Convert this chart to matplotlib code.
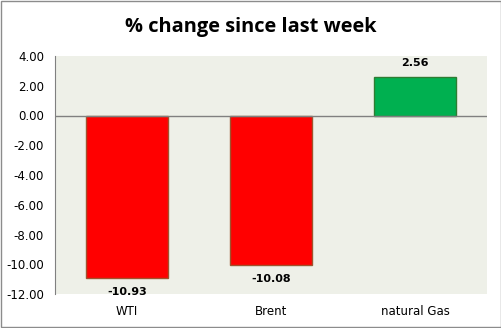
import matplotlib.pyplot as plt
import numpy as np

# weekly % change per commodity
categories = ['WTI', 'Brent', 'natural Gas']
pct_change = [-10.93, -10.08, 2.56]

fig = plt.figure(figsize=(5.02, 3.28), dpi=100)
fig.patch.set_facecolor('white')
ax = fig.add_axes([55 / 502, 1 - 294 / 328, 432 / 502, 238 / 328])
ax.set_facecolor('#eef0e8')

x = np.arange(len(categories))
colors = ['#ff0000' if v < 0 else '#00b050' for v in pct_change]
edges = ['#a0522d' if v < 0 else '#2e7d32' for v in pct_change]
ax.bar(x, pct_change, width=0.57, color=colors, edgecolor=edges, linewidth=1.0, zorder=3)

ax.axhline(0, color='#808080', linewidth=1.0, zorder=4)

for xi, v in zip(x, pct_change):
    off = -0.6 if v < 0 else 0.6
    ax.text(xi, v + off, '%.2f' % v, ha='center', va='top' if v < 0 else 'bottom',
            fontsize=8, fontweight='bold', color='black', family='DejaVu Sans')

ax.set_xlim(-0.5, 2.5)
ax.set_ylim(-12, 4)
ax.set_yticks(np.arange(-12, 5, 2))
ax.set_yticklabels(['%.2f' % t for t in np.arange(-12, 5, 2)], fontsize=8.5)
ax.set_xticks(x)
ax.set_xticklabels(categories, fontsize=8.5)
ax.tick_params(axis='x', length=0, pad=8)
ax.tick_params(axis='y', length=0, pad=8)

for side in ['top', 'right', 'bottom']:
    ax.spines[side].set_visible(False)
ax.spines['left'].set_color('#808080')

fig.text(0.5, 1 - 27 / 328, '% change since last week', ha='center', va='center',
         fontsize=14.4, fontweight='bold', family='Open Sans')

# outer frame
fig.add_artist(plt.Rectangle((0.002, 0.003), 0.996, 0.994, transform=fig.transFigure,
                             fill=False, edgecolor='#8c8c8c', linewidth=1.0))

fig.savefig('out.png', dpi=100, facecolor='white')
